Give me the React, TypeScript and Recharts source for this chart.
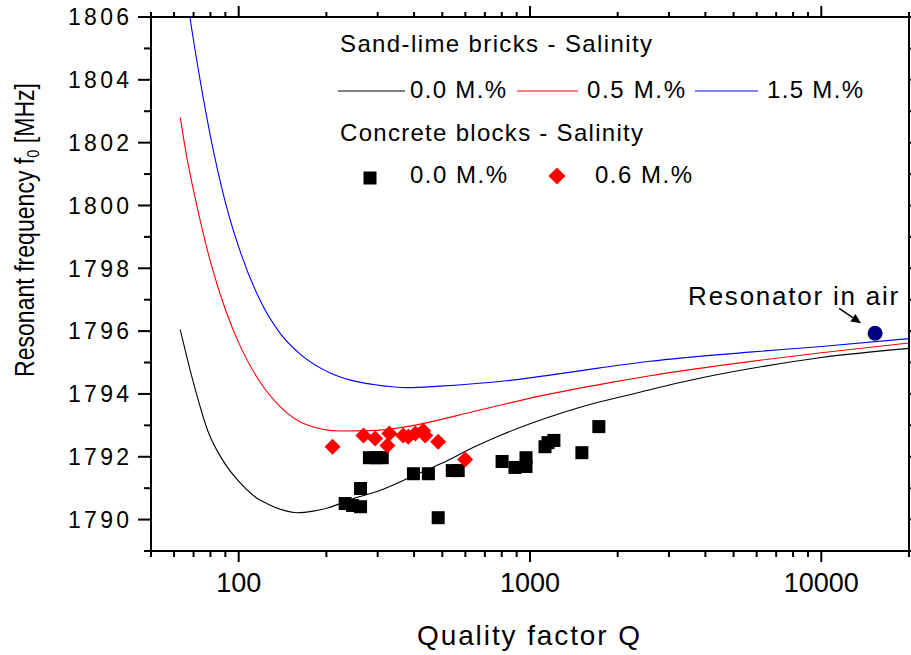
import React from 'react';
import { ComposedChart, Line, Scatter, XAxis, YAxis, Customized } from 'recharts';

const FONT = '"Liberation Sans", Arial, Helvetica, sans-serif';

// Axis ticks (log Q axis, linear frequency axis)
const xTicks = [50, 60, 70, 80, 90, 100, 200, 300, 400, 500, 600, 700, 800, 900, 1000,
  2000, 3000, 4000, 5000, 6000, 7000, 8000, 9000, 10000, 20000];
const xMajorTicks = [100, 1000, 10000];
const yTicks = [1789, 1790, 1791, 1792, 1793, 1794, 1795, 1796, 1797, 1798, 1799, 1800,
  1801, 1802, 1803, 1804, 1805, 1806];
const yMajorTicks = [1790, 1792, 1794, 1796, 1798, 1800, 1802, 1804, 1806];

// Sand-lime bricks, model curves f0(Q)
const brick00Q = [63, 69.6, 78.3, 88, 101.6, 114, 125.7, 140, 159, 180, 202, 248, 300, 400, 500,
  640, 800, 1000, 1340, 1740, 2250, 3820, 5660, 10000, 20000];
const brick00F = [1796.05, 1794.43, 1792.83, 1791.9, 1791.15, 1790.72, 1790.5, 1790.32, 1790.22,
  1790.27, 1790.37, 1790.67, 1790.9, 1791.4, 1791.8, 1792.3, 1792.7, 1793.05, 1793.45, 1793.75,
  1794.0, 1794.5, 1794.8, 1795.16, 1795.45];

const brick05Q = [63, 66, 71.2, 80.2, 90.3, 101.6, 117, 139, 172, 223, 300, 400, 640, 1080, 1880,
  2580, 5660, 10000, 20000];
const brick05F = [1802.8, 1801.66, 1800.16, 1798.17, 1796.65, 1795.49, 1794.45, 1793.59, 1793.01,
  1792.82, 1792.84, 1793.0, 1793.44, 1793.93, 1794.36, 1794.58, 1795.03, 1795.31, 1795.62];

const brick15Q = [63, 68, 74, 80, 90, 101.6, 119, 139, 163, 207, 242, 290, 380, 490, 830, 1170,
  1740, 2580, 5660, 10000, 20000];
const brick15F = [1808.2, 1806.0, 1803.9, 1802.2, 1800.1, 1798.49, 1796.94, 1795.92, 1795.26,
  1794.66, 1794.44, 1794.3, 1794.2, 1794.25, 1794.42, 1794.6, 1794.83, 1795.04, 1795.33, 1795.51,
  1795.76];

// Concrete blocks, measurements
const block00Q = [232, 246, 262, 262, 281, 297, 311, 398, 448, 484, 541, 567, 802, 888, 969, 969,
  1126, 1153, 1208, 1507, 1723];
const block00F = [1790.51, 1790.45, 1790.41, 1790.99, 1791.97, 1791.97, 1791.97, 1791.46, 1791.46,
  1790.06, 1791.56, 1791.56, 1791.85, 1791.66, 1791.69, 1791.97, 1792.32, 1792.45, 1792.52,
  1792.13, 1792.96];

const block06Q = [210, 268, 294, 324, 329, 367, 382, 404, 430, 437, 484, 599];
const block06F = [1792.32, 1792.68, 1792.58, 1792.36, 1792.74, 1792.68, 1792.64, 1792.74, 1792.83,
  1792.68, 1792.48, 1791.91];

// Empty resonator
const airQ = [15300];
const airF = [1795.93];

const pts = (q: number[], f: number[]) => q.map((v, i) => ({ q: v, f: f[i] }));

const BottomTick = (props: any) => {
  const { x, y, payload } = props;
  const major = xMajorTicks.includes(payload.value);
  return (
    <g>
      <line x1={x} y1={y} x2={x} y2={y + (major ? 11 : 6)} stroke="#000" strokeWidth={2} />
      {major && (
        <text x={x} y={y + 41} textAnchor="middle" fontSize={27} fontFamily={FONT} fill="#000">
          {payload.value}
        </text>
      )}
    </g>
  );
};

const TopTick = (props: any) => {
  const { x, y, payload } = props;
  const major = xMajorTicks.includes(payload.value);
  return <line x1={x} y1={y} x2={x} y2={y - (major ? 11 : 5)} stroke="#000" strokeWidth={2} />;
};

const LeftTick = (props: any) => {
  const { x, y, payload } = props;
  const major = yMajorTicks.includes(payload.value);
  return (
    <g>
      <line x1={x} y1={y} x2={x - (major ? 13 : 7)} y2={y} stroke="#000" strokeWidth={2} />
      {major && (
        <text x={x - 22} y={y + 8.3} textAnchor="end" fontSize={23} fontFamily={FONT} fill="#000"
          textLength={61} lengthAdjust="spacing">
          {payload.value}
        </text>
      )}
    </g>
  );
};

const RightTick = (props: any) => {
  const { x, y, payload } = props;
  const major = yMajorTicks.includes(payload.value);
  return <line x1={x} y1={y} x2={x + (major ? 12 : 6)} y2={y} stroke="#000" strokeWidth={2} />;
};

const SquareShape = (props: any) => {
  const { cx, cy } = props;
  return <rect x={cx - 6.5} y={cy - 6.5} width={13} height={13} fill="#000" />;
};

const DiamondShape = (props: any) => {
  const { cx, cy } = props;
  const r = 8;
  return <polygon points={`${cx},${cy - r} ${cx + r},${cy} ${cx},${cy + r} ${cx - r},${cy}`} fill="#ff0000" />;
};

const AirShape = (props: any) => {
  const { cx, cy } = props;
  // arrow from the label towards the point
  const x1 = cx - 36, y1 = cy - 25, x2 = cx - 14, y2 = cy - 10;
  const dx = x2 - x1, dy = y2 - y1;
  const len = Math.hypot(dx, dy);
  const ux = dx / len, uy = dy / len;
  const hl = 10, hw = 4.5;
  const bx = x2 - ux * hl, by = y2 - uy * hl;
  return (
    <g>
      <circle cx={cx} cy={cy} r={7.5} fill="#000080" />
      <line x1={x1} y1={y1} x2={bx} y2={by} stroke="#000" strokeWidth={1.5} />
      <polygon
        points={`${x2},${y2} ${bx - uy * hw},${by + ux * hw} ${bx + uy * hw},${by - ux * hw}`}
        fill="#000"
      />
      <text x={cx + 23} y={cy - 28} textAnchor="end" fontSize={26} fontFamily={FONT} fill="#000"
        textLength={210} lengthAdjust="spacing">
        Resonator in air
      </text>
    </g>
  );
};

const LegendAndTitles = () => (
  <g fontFamily={FONT} fill="#000">
    <text x={340} y={52} fontSize={24} textLength={312} lengthAdjust="spacing">Sand-lime bricks - Salinity</text>
    <line x1={338} y1={91} x2={405} y2={91} stroke="#000" strokeWidth={1.2} />
    <text x={410} y={98} fontSize={24} textLength={96} lengthAdjust="spacing">0.0 M.%</text>
    <line x1={517} y1={91} x2={578} y2={91} stroke="#ff0000" strokeWidth={1.2} />
    <text x={587} y={98} fontSize={24} textLength={98} lengthAdjust="spacing">0.5 M.%</text>
    <line x1={695} y1={91} x2={758} y2={91} stroke="#0000ff" strokeWidth={1.2} />
    <text x={767} y={98} fontSize={24} textLength={96} lengthAdjust="spacing">1.5 M.%</text>

    <text x={340} y={141} fontSize={24} textLength={303} lengthAdjust="spacing">Concrete blocks - Salinity</text>
    <rect x={363.5} y={171.5} width={13} height={13} fill="#000" />
    <text x={410} y={183} fontSize={24} textLength={97} lengthAdjust="spacing">0.0 M.%</text>
    <polygon points="557,167.5 565.5,176 557,184.5 548.5,176" fill="#ff0000" />
    <text x={595} y={183} fontSize={24} textLength={97} lengthAdjust="spacing">0.6 M.%</text>

    <text x={528.5} y={645} fontSize={28} textAnchor="middle" textLength={223} lengthAdjust="spacing">
      Quality factor Q
    </text>
    <text transform="rotate(-90)" x={-230} y={34} fontSize={27} textAnchor="middle"
      textLength={294} lengthAdjust="spacingAndGlyphs">
      Resonant frequency f
      <tspan fontSize={17} dy={5}>0</tspan>
      <tspan dy={-5}> [MHz]</tspan>
    </text>
  </g>
);

export default function App() {
  return (
    <div style={{ position: 'absolute', left: 0, top: 0, background: '#fff' }}>
      <ComposedChart width={911} height={655} margin={{ top: 16, right: 0, bottom: 0, left: 0 }}>
        <XAxis xAxisId="b" type="number" dataKey="q" scale="log" domain={[50, 20000]} allowDataOverflow
          ticks={xTicks} interval={0} tickSize={0} tickMargin={0} tickLine={false} tick={<BottomTick />}
          axisLine={{ stroke: '#000', strokeWidth: 2 }} height={104} />
        <XAxis xAxisId="t" orientation="top" type="number" dataKey="q" scale="log" domain={[50, 20000]}
          allowDataOverflow ticks={xTicks} interval={0} tickSize={0} tickMargin={0} tickLine={false}
          tick={<TopTick />} axisLine={{ stroke: '#000', strokeWidth: 2 }} height={1} />
        <YAxis yAxisId="l" type="number" dataKey="f" domain={[1789, 1806]} allowDataOverflow
          ticks={yTicks} interval={0} tickSize={0} tickMargin={0} tickLine={false} tick={<LeftTick />}
          axisLine={{ stroke: '#000', strokeWidth: 2 }} width={151} />
        <YAxis yAxisId="r" orientation="right" type="number" dataKey="f" domain={[1789, 1806]}
          allowDataOverflow ticks={yTicks} interval={0} tickSize={0} tickMargin={0} tickLine={false}
          tick={<RightTick />} axisLine={{ stroke: '#000', strokeWidth: 2 }} width={2} />

        <Line xAxisId="b" yAxisId="l" data={pts(brick00Q, brick00F)} dataKey="f" type="monotone"
          stroke="#000000" strokeWidth={1.1} dot={false} activeDot={false} isAnimationActive={false} />
        <Line xAxisId="b" yAxisId="l" data={pts(brick05Q, brick05F)} dataKey="f" type="monotone"
          stroke="#ff0000" strokeWidth={1.1} dot={false} activeDot={false} isAnimationActive={false} />
        <Line xAxisId="b" yAxisId="l" data={pts(brick15Q, brick15F)} dataKey="f" type="monotone"
          stroke="#0000ff" strokeWidth={1.1} dot={false} activeDot={false} isAnimationActive={false} />

        <Scatter xAxisId="b" yAxisId="l" data={pts(block00Q, block00F)} dataKey="f"
          shape={<SquareShape />} isAnimationActive={false} />
        <Scatter xAxisId="b" yAxisId="l" data={pts(block06Q, block06F)} dataKey="f"
          shape={<DiamondShape />} isAnimationActive={false} />
        <Scatter xAxisId="b" yAxisId="l" data={pts(airQ, airF)} dataKey="f"
          shape={<AirShape />} isAnimationActive={false} />

        <Customized component={<LegendAndTitles />} />
      </ComposedChart>
    </div>
  );
}
